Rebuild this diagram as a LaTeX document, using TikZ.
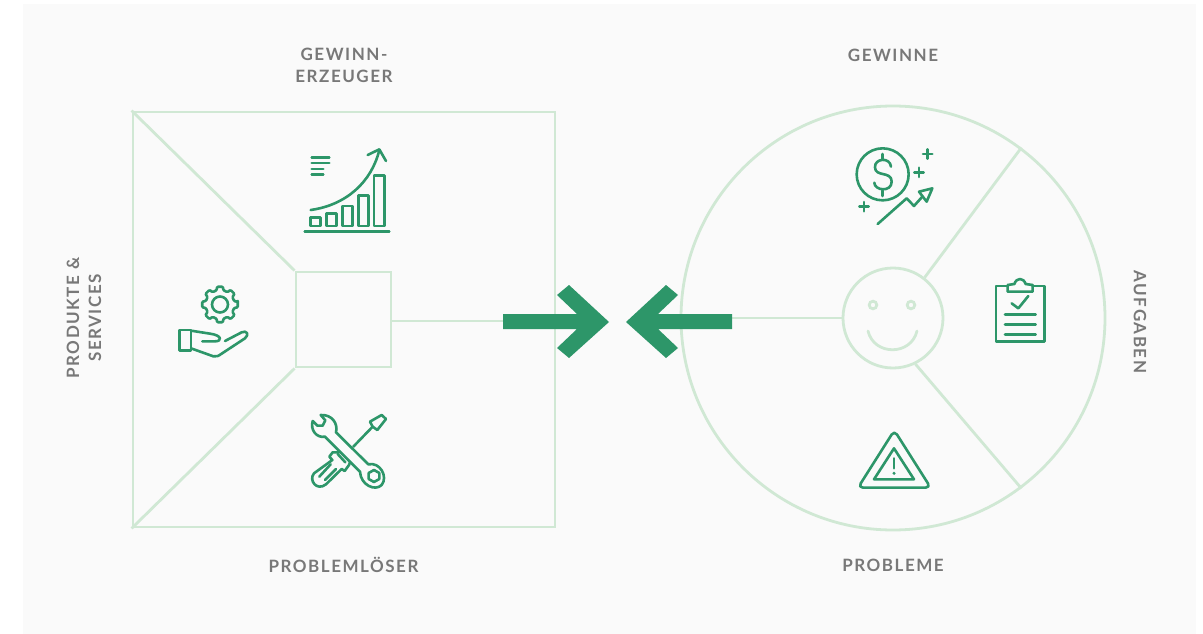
\documentclass[tikz,border=0pt]{standalone}
\usepackage{fontspec}
\setmainfont{Lato}
\newfontfamily\labelfont[LetterSpace=9]{Lato Bold}
\definecolor{panelgray}{HTML}{FAFAFA}
\definecolor{palegreen}{HTML}{D0E8D4}
\definecolor{deepgreen}{HTML}{2D9669}
\definecolor{labelgray}{HTML}{787878}
\tikzset{
  paleline/.style={draw=palegreen,line width=2.8pt},
  iconline/.style={draw=deepgreen,line width=2.6pt,line join=round,line cap=round},
  icongrid/.style={x=.3333pt,y=-.3333pt},
  caption/.style={text=labelgray,font=\labelfont\fontsize{17}{22}\selectfont,align=center,inner sep=0pt}
}
\begin{document}
\begin{tikzpicture}[x=1pt,y=-1pt]
  \useasboundingbox (0,0) rectangle (1203,634);
  \fill [panelgray] (23,4) rectangle (1196,634);
  % left square
  \node (canvas) [paleline,minimum width=422pt,minimum height=415pt,inner sep=0pt] at (344,319.5) {};
  \node (core) [paleline,minimum size=95pt,inner sep=0pt] at (343.5,319.5) {};
  \draw [paleline] (canvas.north west) -- (core.north west);
  \draw [paleline] (canvas.south west) -- (core.south west);
  \coordinate (ltail) at (503,321);
  \draw [paleline] (ltail -| core.east) -- (ltail);
  % right circle
  \node (ring) [paleline,circle,minimum size=424pt,inner sep=0pt] at (893,318) {};
  \node (face) [paleline,circle,minimum size=100pt,inner sep=0pt] at (893,318) {};
  \coordinate (rtail) at (732,318);
  \draw [paleline] (face.west) -- (rtail);
  \draw [paleline] (face.52) -- (ring.53.3);
  \draw [paleline] (face.-64) -- (ring.-53.6);
  \draw [paleline] (873,305) circle (3.8);
  \draw [paleline] (911,305) circle (3.8);
  \draw [paleline,line cap=round] (868,331) .. controls (874,356) and (911,356) .. (917,331);
  % big arrows
  \def\arrowpath{-- ++(74,0) -- ++(-20,-19) -- ++(12,-10) -- ++(40,37) -- ++(-40,36) -- ++(-12,-10) -- ++(20,-19) -- ++(-74,0) -- cycle}
  \fill [deepgreen] (503,314) \arrowpath;
  \fill [deepgreen,shift={(732,314)},x=-1pt] (0,0) \arrowpath;
  % chart
  \begin{scope}[shift={(290,140)},icongrid]
    \draw [iconline] (44,275) -- (298,275);
    \draw [iconline] (62,232) rectangle (92,258);
    \draw [iconline] (110,220) rectangle (140,258);
    \draw [iconline] (157,198) rectangle (188,258);
    \draw [iconline] (205,167) rectangle (236,258);
    \draw [iconline] (252,107) rectangle (284,258);
    \draw [iconline] (62,210) .. controls (170,195) and (245,125) .. (268,30);
    \draw [iconline] (233,45) -- (268,28) -- (288,63);
    \draw [iconline] (65,53) -- (118,53);
    \draw [iconline] (65,69) -- (118,69);
    \draw [iconline] (65,87) -- (100,87);
    \draw [iconline] (65,104) -- (100,104);
  \end{scope}
  % gear and hand
  \draw [iconline,rounded corners=1pt,shift={(220,304.5)}] (-8:18)
    \foreach \a in {0,45,...,315} { -- ({\a-9}:18) -- ({\a+9}:18) -- ({\a+14}:14.5) -- ({\a+31}:14.5) } -- cycle;
  \draw [iconline] (220,304.5) circle (8);
  \begin{scope}[shift={(165,280)},icongrid]
    \draw [iconline] (43,150) rectangle (78,212);
    \draw [iconline] (78,152) -- (135,161) .. controls (172,166) and (172,184) .. (150,184) -- (112,184);
    \draw [iconline] (78,205) -- (145,229) .. controls (155,231) and (160,228) .. (170,221) -- (240,175) .. controls (254,163) and (245,150) .. (230,157) -- (180,183);
  \end{scope}
  % wrench and screwdriver
  \begin{scope}[shift={(300,405)},icongrid]
    \draw [iconline] (62,30) -- (76,46) -- (68,62) -- (52,62) -- (38,48)
      .. controls (30,75) and (50,100) .. (75,95) -- (180,200)
      .. controls (182,240) and (225,260) .. (245,240)
      .. controls (265,215) and (240,170) .. (205,178)
      -- (108,82) .. controls (115,55) and (95,28) .. (62,30) -- cycle;
    \draw [iconline] (222,195) -- (238,204) -- (238,222) -- (222,231) -- (206,222) -- (206,204) -- cycle;
    \draw [iconline] (160,125) -- (218,65) -- (210,50) -- (245,30) -- (258,42) -- (232,75) -- (218,65);
    \draw [iconline] (113,147) -- (136,172);
    \draw [iconline] (118,142) -- (98,142) -- (88,155) -- (97,165) -- (42,205)
      .. controls (25,225) and (50,260) .. (78,238) -- (125,192) -- (134,198) -- (147,180) -- (150,172);
    \draw [iconline] (58,215) -- (92,178);
    \draw [iconline] (75,225) -- (108,192);
  \end{scope}
  % dollar and trend
  \begin{scope}[shift={(845,140)},icongrid]
    \draw [iconline] (113,103) circle (78);
    \draw [iconline] (113,42) -- (113,58);
    \draw [iconline] (113,152) -- (113,168);
    \draw [iconline] (138,80) .. controls (135,50) and (88,55) .. (90,82)
      .. controls (90,112) and (140,92) .. (140,125)
      .. controls (140,158) and (88,152) .. (88,128);
    \draw [iconline] (234,42) -- (262,42);
    \draw [iconline] (248,28) -- (248,56);
    \draw [iconline] (208,97) -- (236,97);
    \draw [iconline] (222,83) -- (222,111);
    \draw [iconline] (43,200) -- (71,200);
    \draw [iconline] (57,186) -- (57,214);
    \draw [iconline] (98,252) -- (185,175) -- (207,198) -- (232,170);
    \draw [iconline] (222,155) -- (262,145) -- (245,185) -- cycle;
  \end{scope}
  % clipboard
  \begin{scope}[shift={(985,270)},icongrid]
    \draw [iconline] (68,48) -- (33,48) -- (33,215) -- (178,215) -- (178,48) -- (143,48);
    \draw [iconline] (68,65) -- (68,45) -- (88,42) .. controls (95,22) and (115,22) .. (122,42) -- (143,45) -- (143,65) -- cycle;
    \draw [iconline] (80,100) -- (100,115) -- (130,78);
    \draw [iconline] (60,133) -- (152,133);
    \draw [iconline] (60,163) -- (152,163);
    \draw [iconline] (60,193) -- (152,193);
  \end{scope}
  % warning
  \begin{scope}[shift={(850,425)},icongrid]
    \draw [iconline,rounded corners=5pt] (133,16) -- (24,188) -- (242,188) -- cycle;
    \draw [iconline] (132,70) -- (72,163) -- (192,163) -- cycle;
    \draw [iconline] (132,100) -- (132,130);
    \fill [deepgreen] (132,145) circle (5);
  \end{scope}
  % captions
  \node (earn) [caption] at (344,65) {GEWINN-\\ERZEUGER};
  \node (gains) [caption] at (893,55) {GEWINNE};
  \node (fixer) [caption] at (343.5,565) {PROBLEMLÖSER};
  \node (pains) [caption] at (893,565) {PROBLEME};
  \node (goods) [caption,rotate=90] at (84,318) {PRODUKTE \&\\SERVICES};
  \node (jobs) [caption,rotate=-90] at (1140,322) {AUFGABEN};
\end{tikzpicture}
\end{document}
